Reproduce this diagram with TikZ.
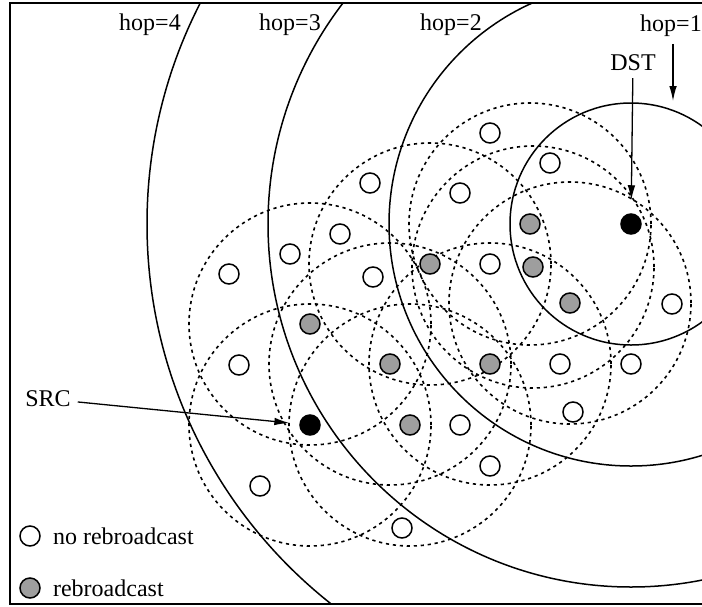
\documentclass[tikz,border=0pt]{standalone}
\usepackage{fontspec}
\setmainfont{Liberation Serif}
\usetikzlibrary{arrows.meta,backgrounds}

\begin{document}
\begin{tikzpicture}[x=0.5pt,y=-0.5pt,font=\fontsize{12}{14}\selectfont,
  plain/.style={circle,draw,fill=white,line width=0.75pt,minimum size=10pt,inner sep=0pt},
  relay/.style={plain,fill=black!38},
  endpt/.style={plain,fill=black},
  hopring/.style={line width=0.75pt},
  radiorange/.style={line width=0.8pt,dash pattern=on 1.6pt off 1.9pt},
  pointer/.style={-{Latex[length=7.5pt,width=3.8pt]},line width=0.65pt}]
 \useasboundingbox (0,0) rectangle (702,606);
 \draw[line width=0.6pt] (702,3) -| (10,604) -- (702,604);
 \node[endpt] (dst) at (631,224) {};
 \node[endpt] (src) at (310,425) {};
 \foreach \x/\y [count=\i] in {490/133,550/163,370/183,460/193,340/234,290/254,
   229/274,373/277,490/264,672/304,239/365,560/364,631/364,573/412,460/425,
   490/466,260/486,402/528}
  \node[plain] (w\i) at (\x,\y) {};
 \foreach \x/\y [count=\i] in {530/224,430/264,533/267,570/303,310/324,390/364,
   490/364,410/425}
  \node[relay] (g\i) at (\x,\y) {};
 \begin{scope}[on background layer]
  \clip (10,3) rectangle (702,604);
  \foreach \r in {1,...,4}
   \draw[hopring] (dst) circle[radius=\r*60.5pt];
  \foreach \n in {g1,g2,g3,g4,g5,g6,g7,g8,src}
   \draw[radiorange] (\n) circle[radius=60.5pt];
 \end{scope}
 \node (hop4) at (150,25) {hop=4};
 \node (hop3) at (290,25) {hop=3};
 \node (hop2) at (451,25) {hop=2};
 \node (hop1) at (671,26) {hop=1};
 \node (dstlabel) at (633,63) {DST};
 \node (srclabel) at (48,399) {SRC};
 \coordinate (ring1) at (673,101);
 \draw[pointer] (hop1.south -| ring1) -- (ring1);
 \draw[pointer,shorten >=6.5pt] (dstlabel) -- (dst);
 \draw[pointer,shorten >=5pt] (srclabel) -- (src);
 \node[plain] (keyplain) at (30,536) {};
 \node[anchor=west] (keyplaintext) at (46,536) {no rebroadcast};
 \node[relay] (keyrelay) at (30,588) {};
 \node[anchor=west] (keyrelaytext) at (46,588) {rebroadcast};
\end{tikzpicture}
\end{document}
